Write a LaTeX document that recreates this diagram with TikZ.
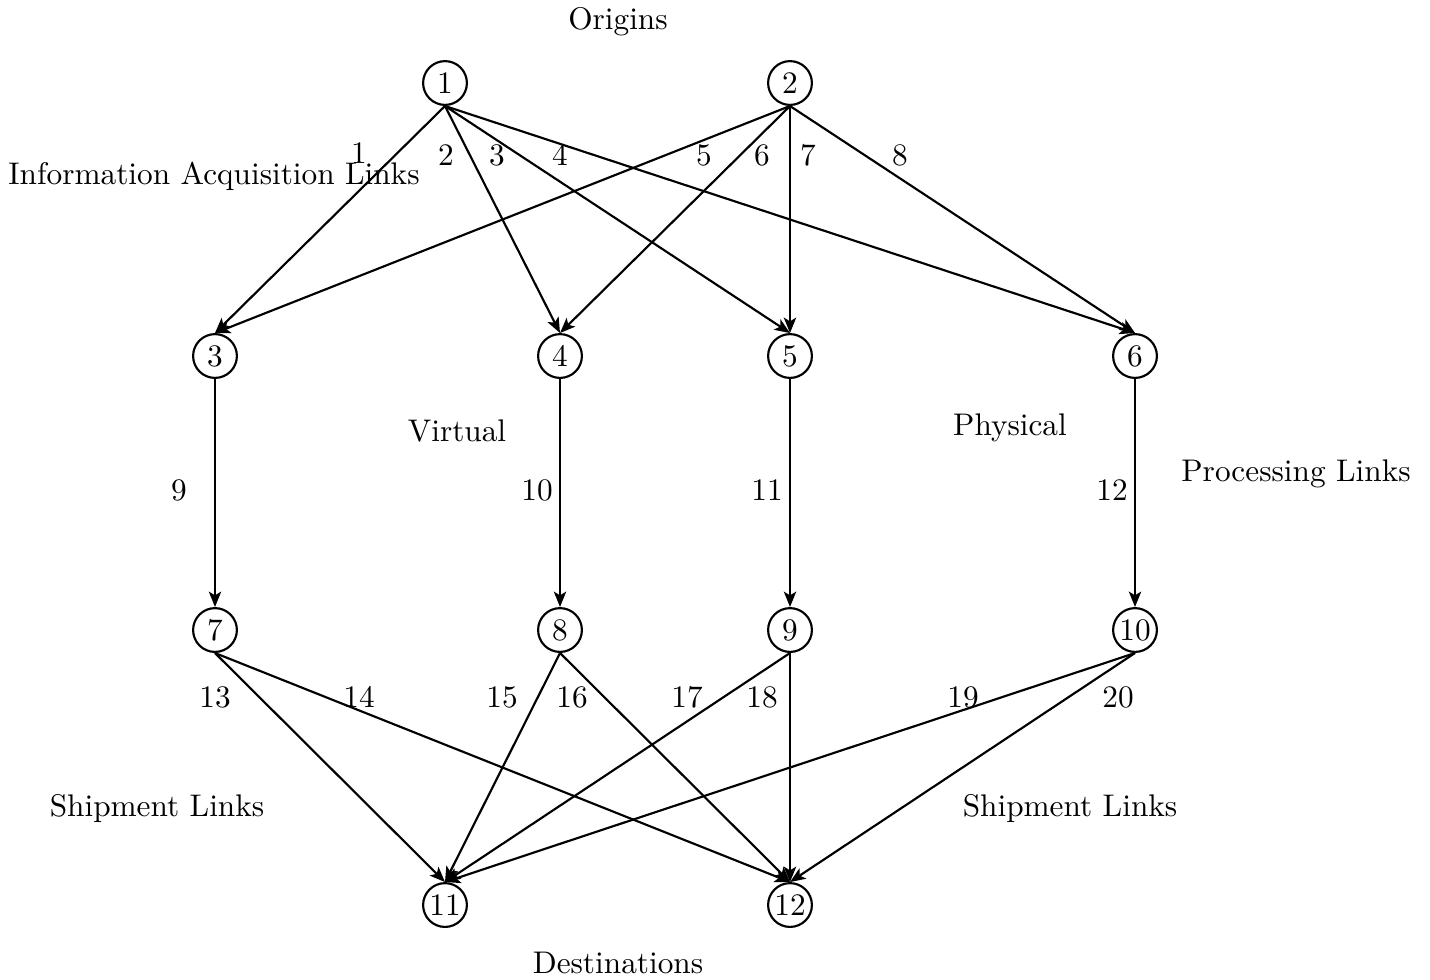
\documentclass[tikz,border=0pt]{standalone}
\usetikzlibrary{arrows.meta}

\begin{document}
\begin{tikzpicture}[x=0.326pt, y=-0.326pt,
    every node/.style={scale=1.02},
    netnode/.style={circle, draw, line width=0.7pt, minimum size=14pt, inner sep=0pt},
    link/.style={line width=0.7pt, -{Stealth[length=5pt, width=4pt, inset=1.2pt]}},
    linklabel/.style={inner sep=0pt}
    ]
    \useasboundingbox (0,0) rectangle (1430,979);

    % nodes
    \node[netnode] (n1)  at (445,83)  {1};
    \node[netnode] (n2)  at (790,83)  {2};
    \node[netnode] (n3)  at (215,356) {3};
    \node[netnode] (n4)  at (560,356) {4};
    \node[netnode] (n5)  at (790,356) {5};
    \node[netnode] (n6)  at (1135,356) {6};
    \node[netnode] (n7)  at (215,630) {7};
    \node[netnode] (n8)  at (560,630) {8};
    \node[netnode] (n9)  at (790,630) {9};
    \node[netnode] (n10) at (1135,630) {10};
    \node[netnode] (n11) at (445,905) {11};
    \node[netnode] (n12) at (790,905) {12};

    \draw[link] (n1.south)--(n3.north);
    \draw[link] (n1.south)--(n4.north);
    \draw[link] (n1.south)--(n5.north);
    \draw[link] (n1.south)--(n6.north);
    \draw[link] (n2.south)--(n3.north);
    \draw[link] (n2.south)--(n4.north);
    \draw[link] (n2.south)--(n5.north);
    \draw[link] (n2.south)--(n6.north);
    \draw[link] (n3.south)--(n7.north);
    \draw[link] (n4.south)--(n8.north);
    \draw[link] (n5.south)--(n9.north);
    \draw[link] (n6.south)--(n10.north);
    \draw[link] (n7.south)--(n11.north);
    \draw[link] (n7.south)--(n12.north);
    \draw[link] (n8.south)--(n11.north);
    \draw[link] (n8.south)--(n12.north);
    \draw[link] (n9.south)--(n11.north);
    \draw[link] (n9.south)--(n12.north);
    \draw[link] (n10.south)--(n11.north);
    \draw[link] (n10.south)--(n12.north);

    % link numbers
    \node[linklabel] (l1)  at (359,153) {1};
    \node[linklabel] (l2)  at (446,155) {2};
    \node[linklabel] (l3)  at (497,155) {3};
    \node[linklabel] (l4)  at (560,155) {4};
    \node[linklabel] (l5)  at (704,155) {5};
    \node[linklabel] (l6)  at (762,155) {6};
    \node[linklabel] (l7)  at (808,155) {7};
    \node[linklabel] (l8)  at (900,155) {8};
    \node[linklabel] (l9)  at (179,490) {9};
    \node[linklabel] (l10) at (537,490) {10};
    \node[linklabel] (l11) at (767,490) {11};
    \node[linklabel] (l12) at (1112,490) {12};
    \node[linklabel] (l13) at (215,697) {13};
    \node[linklabel] (l14) at (359,697) {14};
    \node[linklabel] (l15) at (502,697) {15};
    \node[linklabel] (l16) at (572,697) {16};
    \node[linklabel] (l17) at (687,697) {17};
    \node[linklabel] (l18) at (762,697) {18};
    \node[linklabel] (l19) at (963,697) {19};
    \node[linklabel] (l20) at (1118,697) {20};

    % tier names
    \node (origins)  at (618,22)  {Origins};
    \node (infolinks) at (214,176) {Information Acquisition Links};
    \node (virtual)  at (457,431) {Virtual};
    \node (physical) at (1010,428) {Physical};
    \node (proclinks) at (1296,474) {Processing Links};
    \node (shipleft) at (157,808) {Shipment Links};
    \node (shipright) at (1070,808) {Shipment Links};
    \node (dest)     at (618,963) {Destinations};
    %
\end{tikzpicture}
\end{document}
